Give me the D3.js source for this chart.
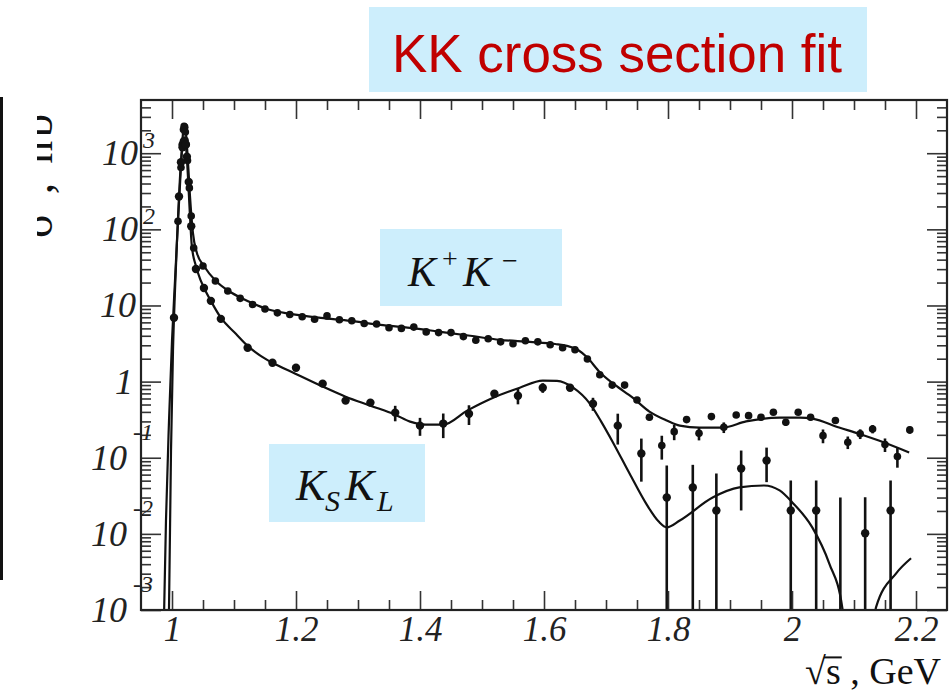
<!DOCTYPE html>
<html><head><meta charset="utf-8">
<script src="https://cdn.jsdelivr.net/npm/d3@7"></script>
<style>body{margin:0;background:#fff}svg{display:block}</style>
</head><body>
<svg id="c" width="949" height="693"></svg>
<script>
// ---------- data ----------
const kpkmX = [1.0097,1.0145,1.0165,1.0185,1.0195,1.0205,1.0215,1.023,1.025,1.028,1.031,1.035,
 1.05,1.07,1.09,1.11,1.13,1.15,1.17,1.19,1.21,1.23,1.25,1.27,1.29,1.31,1.33,1.35,1.37,1.39,1.41,1.43,1.45,1.47,1.49,1.51,1.53,1.55,1.57,1.59,1.61,1.63,1.65,
 1.67,1.69,1.71,1.73,1.75,1.77,1.79,1.81,1.83,1.85,1.87,1.89,1.91,1.93,1.95,1.97,1.99,2.01,2.03,2.05,2.07,2.09,2.11,2.13,2.15,2.17,2.19];
const kpkmY = [128,650,1300,2050,2250,2200,1900,1300,800,350,150,56.9,
 33.0,21.0,15.5,12.4,10.3,9.0,8.0,7.6,7.1,6.6,7.3,6.5,6.3,5.8,5.7,5.1,5.0,5.2,4.5,4.4,4.4,3.9,3.5,3.65,3.33,3.14,3.44,3.33,3.05,2.78,2.62,
 1.98,1.23,0.90,0.90,0.574,0.340,0.1445,0.220,0.317,0.209,0.347,0.251,0.365,0.357,0.340,0.395,0.292,0.395,0.340,0.195,0.308,0.160,0.206,0.239,0.149,0.104,0.232];
const kpkmErr = [4,20,40,60,65,65,55,40,25,11,5,1.7,
 1.0,0.6,0.45,0.35,0.3,0.25,0.22,0.2,0.2,0.2,0.25,0.2,0.18,0.17,0.17,0.16,0.15,0.16,0.14,0.14,0.14,0.13,0.12,0.12,0.11,0.11,0.12,0.11,0.1,0.1,0.1,
 0.08,0.06,0.05,0.05,0.04,0.03,0.05,0.05,0.03,0.04,0.03,0.04,0.03,0.03,0.03,0.03,0.03,0.03,0.03,0.04,0.03,0.03,0.03,0.03,0.03,0.03,0.025];

const ksklX = [1.0032,1.0113,1.0145,1.017,1.019,1.0205,1.022,1.024,1.027,1.031,
 1.0386,1.0515,1.0627,1.0788,1.122,1.162,1.20,1.243,1.28,1.32,1.36,
 1.40,1.4375,1.479,1.52,1.558,1.598,1.642,1.679,1.719,
 1.757,1.798,1.84,1.878,1.918,1.959,1.998,2.039,2.078,2.118,2.159];
const ksklY = [6.9,270,760,1200,1430,1470,1300,900,420,110,
 30.2,17.0,11.5,6.67,2.78,1.77,1.52,0.94,0.563,0.530,0.391,
 0.264,0.281,0.379,0.693,0.653,0.832,0.832,0.513,0.264,
 0.1135,0.030,0.0407,0.0203,0.0723,0.0918,0.0203,0.0203,0.0003,0.0102,0.0203];
const ksklErr = [0.4,8,23,36,43,44,39,27,13,3.5,
 1.0,0.6,0.4,0.25,0.12,0.08,0.08,0.06,0.05,0.05,0.09,
 0.07,0.1,0.11,0.06,0.15,0.12,0.08,0.10,0.115,
 0.065,0.049,0.040,0.042,0.052,0.044,0.030,0.030,0.0297,0.020,0.030];

const kpkmFitX = [0.9871,0.9903,0.9952,1.0,1.0048,1.0097,1.0145,1.0177,1.0201,1.0225,1.0257,1.029,1.0338,1.0402,1.0515,
 1.0708,1.0917,1.111,1.132,1.153,1.191,1.240,1.288,1.336,1.384,1.433,1.481,1.529,1.577,1.618,
 1.637,1.655,1.669,1.690,1.714,1.743,1.770,1.798,1.819,1.851,1.888,1.926,1.980,2.012,2.033,2.076,2.108,2.140,2.189];
const kpkmFitY = [0.0008,0.015,0.308,3.44,21,128,676,1830,2330,1830,785,273,89,48.9,33,
 21,15.5,12.6,10.5,9.0,7.76,6.88,6.28,5.57,5.09,4.51,4.0,3.54,3.33,3.12,
 2.95,2.6,2.1,1.33,0.91,0.615,0.403,0.308,0.264,0.249,0.249,0.300,0.337,0.337,0.327,0.249,0.207,0.168,0.117];

const ksklFitX = [0.995,0.9984,1.0016,1.0048,1.008,1.0113,1.0145,1.0177,1.0201,1.0225,1.0257,1.029,1.032,1.0386,1.0466,
 1.0627,1.0788,1.103,1.122,1.143,1.162,1.199,1.240,1.280,1.320,1.360,1.384,1.409,1.4375,1.476,
 1.518,1.561,1.598,1.621,1.647,1.674,1.692,1.711,1.738,1.766,1.785,1.798,1.819,1.872,1.915,
 1.955,1.980,2.0005,2.0327,2.060,2.081,2.095,2.121,2.1356,2.168,2.192];
const ksklFitY = [0.0008,0.124,2.54,15.5,70,273,785,1352,1480,1235,500,149,60,33,21,
 11.5,6.9,4.25,2.95,2.18,1.77,1.27,0.883,0.634,0.483,0.368,0.298,0.272,0.272,0.416,
 0.615,0.832,1.03,1.02,0.832,0.513,0.30,0.16,0.062,0.024,0.0145,0.0122,0.0150,0.030,0.0407,
 0.0432,0.0372,0.0259,0.01216,0.0041,0.00109,0.0001,0.0001,0.00109,0.00303,0.00478];

const xMajor = [1,1.2,1.4,1.6,1.8,2,2.2];
const xTickLabels = ["1","1.2","1.4","1.6","1.8","2","2.2"];
const yExp = [-3,-2,-1,0,1,2,3];

const titleText = "KK cross section fit";

// ---------- chart ----------
const svg = d3.select("#c");
const x = d3.scaleLinear().domain([0.95, 2.25]).range([141, 947]);
const y = d3.scaleLog().domain([1e-3, 5000]).range([610, 100]);
const yMajor = yExp.map(e => Math.pow(10, e));
const yMinor = [];
yExp.forEach(e => { for (let m = 2; m <= 9; m++) { const v = m * Math.pow(10, e); if (v < 5000) yMinor.push(v); } });
const xMinor = d3.range(20, 45).map(i => +(i * 0.05).toFixed(2)).filter(v => !xMajor.includes(v));

// left slide line & y title (cropped)
svg.append("rect").attr("x", 0).attr("y", 97).attr("width", 3).attr("height", 483).attr("fill", "#111");
svg.append("clipPath").attr("id", "ytclip").append("rect").attr("x", 37).attr("y", 90).attr("width", 60).attr("height", 170);
svg.append("g").attr("clip-path", "url(#ytclip)")
  .append("text").attr("transform", "translate(52,238) rotate(-90)")
  .attr("font-family", "Liberation Serif, serif").attr("font-size", 46).attr("fill", "#111")
  .attr("textLength", 124).attr("lengthAdjust", "spacing")
  .text("σ , nb");

// data clip
svg.append("clipPath").attr("id", "plot").append("rect").attr("x", 141).attr("y", 100).attr("width", 806).attr("height", 510);
const plot = svg.append("g").attr("clip-path", "url(#plot)");

const line = d3.line().x(d => x(d[0])).y(d => y(d[1])).curve(d3.curveMonotoneX);
plot.append("path").datum(kpkmFitX.map((v, i) => [v, kpkmFitY[i]]))
  .attr("d", line).attr("fill", "none").attr("stroke", "#111").attr("stroke-width", 2.2);
plot.append("path").datum(ksklFitX.map((v, i) => [v, ksklFitY[i]]))
  .attr("d", line).attr("fill", "none").attr("stroke", "#111").attr("stroke-width", 2.2);

function drawSeries(xs, ys, es, r) {
  const data = xs.map((v, i) => ({ x: v, y: ys[i], e: es[i] || 0 }));
  plot.append("g").selectAll("line").data(data).join("line")
    .attr("x1", d => x(d.x)).attr("x2", d => x(d.x))
    .attr("y1", d => y(d.y + d.e))
    .attr("y2", d => y(Math.max(d.y - d.e, 1e-5)))
    .attr("stroke", "#111").attr("stroke-width", 2.6);
  plot.append("g").selectAll("circle").data(data).join("circle")
    .attr("cx", d => x(d.x)).attr("cy", d => y(d.y)).attr("r", r).attr("fill", "#111");
}
drawSeries(kpkmX, kpkmY, kpkmErr, 3.8);
drawSeries(ksklX, ksklY, ksklErr, 4.2);

// axes (ticks inside)
function styleAxis(g) {
  g.select(".domain").remove();
  g.selectAll(".tick line").attr("stroke", "#333").attr("stroke-width", 1.6);
}
svg.append("g").attr("transform", "translate(0,610)")
  .call(d3.axisBottom(x).tickValues(xMinor).tickSize(-10).tickFormat("")).call(styleAxis);
const gxb = svg.append("g").attr("transform", "translate(0,610)")
  .call(d3.axisBottom(x).tickValues(xMajor).tickSize(-19).tickPadding(6).tickFormat((d, i) => xTickLabels[i])).call(styleAxis);
gxb.selectAll("text").attr("font-family", "Liberation Serif, serif").attr("font-style", "italic")
  .attr("font-size", 35).attr("fill", "#222");
svg.append("g").attr("transform", "translate(0,100)")
  .call(d3.axisTop(x).tickValues(xMinor).tickSize(-10).tickFormat("")).call(styleAxis);
svg.append("g").attr("transform", "translate(0,100)")
  .call(d3.axisTop(x).tickValues(xMajor).tickSize(-19).tickFormat("")).call(styleAxis);

svg.append("g").attr("transform", "translate(141,0)")
  .call(d3.axisLeft(y).tickValues(yMinor).tickSize(-10).tickFormat("")).call(styleAxis);
svg.append("g").attr("transform", "translate(141,0)")
  .call(d3.axisLeft(y).tickValues(yMajor).tickSize(-20).tickFormat("")).call(styleAxis);
svg.append("g").attr("transform", "translate(947,0)")
  .call(d3.axisRight(y).tickValues(yMinor).tickSize(-10).tickFormat("")).call(styleAxis);
svg.append("g").attr("transform", "translate(947,0)")
  .call(d3.axisRight(y).tickValues(yMajor).tickSize(-20).tickFormat("")).call(styleAxis);

// y tick labels with exponents
const yLab = svg.append("g").attr("font-family", "Liberation Serif, serif").attr("font-style", "italic").attr("fill", "#222");
yMajor.forEach((v, i) => {
  const e = yExp[i], py = y(v);
  if (e === 0) {
    yLab.append("text").attr("x", 133).attr("y", py + 12).attr("text-anchor", "end").attr("font-size", 36).text("1");
  } else if (e === 1) {
    yLab.append("text").attr("x", 136).attr("y", py + 12).attr("text-anchor", "end").attr("font-size", 36).text("10");
  } else {
    yLab.append("text").attr("x", e > 0 ? 138 : 127).attr("y", py + 12).attr("text-anchor", "end").attr("font-size", 36).text("10");
    yLab.append("text").attr("x", e > 0 ? 143 : 133).attr("y", py + (e > 0 ? -5 : -18)).attr("font-size", 24)
      .text(e > 0 ? String(e) : "-" + (-e));
  }
});

// frame
svg.append("rect").attr("x", 141).attr("y", 100).attr("width", 806).attr("height", 510)
  .attr("fill", "none").attr("stroke", "#222").attr("stroke-width", 2.2);

// x axis title
const xtFont = 38, xtBase = 684;
const xt = svg.append("text").attr("x", 941).attr("y", xtBase).attr("text-anchor", "end")
  .attr("font-family", "Liberation Serif, serif").attr("font-size", xtFont).attr("fill", "#111")
  .text("√s , GeV");
const rootBox = xt.node().getExtentOfChar(0), sBox = xt.node().getExtentOfChar(1);
svg.append("line")
  .attr("x1", rootBox.x + rootBox.width - 2).attr("x2", sBox.x + sBox.width + 1)
  .attr("y1", xtBase - xtFont * 0.70).attr("y2", xtBase - xtFont * 0.70)
  .attr("stroke", "#111").attr("stroke-width", 2);

// title box
svg.append("rect").attr("x", 369).attr("y", 7).attr("width", 498).attr("height", 85).attr("fill", "#CDEEFC");
svg.append("text").attr("x", 392).attr("y", 72).attr("font-family", "Liberation Sans, Arial, sans-serif")
  .attr("font-size", 53).attr("fill", "#C00000").attr("textLength", 450).attr("lengthAdjust", "spacingAndGlyphs")
  .text(titleText);

// K+K- label
svg.append("rect").attr("x", 380).attr("y", 229).attr("width", 182).attr("height", 77).attr("fill", "#CDEEFC");
const t1 = svg.append("text").attr("y", 286).attr("font-family", "Liberation Serif, serif").attr("fill", "#111");
t1.append("tspan").attr("x", 408).attr("font-size", 42).attr("font-style", "italic").text("K");
t1.append("tspan").attr("x", 442).attr("y", 268).attr("font-size", 28).text("+");
t1.append("tspan").attr("x", 463).attr("y", 286).attr("font-size", 42).attr("font-style", "italic").text("K");
t1.append("tspan").attr("x", 502).attr("y", 270).attr("font-size", 28).text("−");

// KSKL label
svg.append("rect").attr("x", 269).attr("y", 444).attr("width", 156).attr("height", 78).attr("fill", "#CDEEFC");
const t2 = svg.append("text").attr("y", 500).attr("font-family", "Liberation Serif, serif").attr("font-style", "italic").attr("fill", "#111");
t2.append("tspan").attr("x", 296).attr("font-size", 44).text("K");
t2.append("tspan").attr("x", 325).attr("y", 511).attr("font-size", 30).text("S");
t2.append("tspan").attr("x", 345).attr("y", 500).attr("font-size", 44).text("K");
t2.append("tspan").attr("x", 377).attr("y", 511).attr("font-size", 30).text("L");
</script>
</body></html>
